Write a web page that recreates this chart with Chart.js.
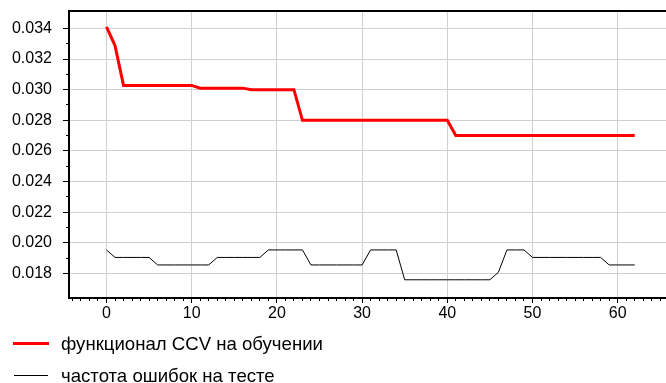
<!DOCTYPE html>
<html>
<head>
<meta charset="utf-8">
<script src="https://cdn.jsdelivr.net/npm/chart.js@4.4.1/dist/chart.umd.min.js"></script>
<style>
  html, body { margin: 0; padding: 0; background: #fff; }
  #wrap { position: relative; width: 666px; height: 383px; overflow: hidden; }
  canvas { display: block; }
  .swatch { position: absolute; }
  .label {
    position: absolute; left: 61px; height: 20px; line-height: 20px;
    font: 18.6px "Liberation Sans", Arial, Helvetica, sans-serif; color: #000; white-space: nowrap;
  }
</style>
</head>
<body>
<div id="wrap">
  <canvas id="chart" width="666" height="383"></canvas>
  <div class="swatch" style="left:13px;top:342px;width:36px;height:3px;background:#ff0000;"></div>
  <div class="label" id="lab0" style="top:333px;"></div>
  <div class="swatch" style="left:14px;top:375px;width:34px;height:1px;background:#000;"></div>
  <div class="label" id="lab1" style="top:365px;"></div>
</div>
<script>
// Training iterations
const epochs = [0, 1, 2, 3, 4, 5, 6, 7, 8, 9, 10, 11, 12, 13, 14, 15, 16, 17, 18, 19, 20,
  21, 22, 23, 24, 25, 26, 27, 28, 29, 30, 31, 32, 33, 34, 35, 36, 37, 38, 39, 40, 41,
  42, 43, 44, 45, 46, 47, 48, 49, 50, 51, 52, 53, 54, 55, 56, 57, 58, 59, 60, 61, 62];

// CCV functional on the training sample
const ccvTrain = [0.0341, 0.03288,
  0.03028, 0.03028, 0.03028, 0.03028, 0.03028, 0.03028, 0.03028, 0.03028, 0.03028,
  0.0301, 0.0301, 0.0301, 0.0301, 0.0301, 0.0301,
  0.0300, 0.0300, 0.0300, 0.0300, 0.0300, 0.0300,
  0.0280, 0.0280, 0.0280, 0.0280, 0.0280, 0.0280, 0.0280, 0.0280, 0.0280,
  0.0280, 0.0280, 0.0280, 0.0280, 0.0280, 0.0280, 0.0280, 0.0280, 0.0280,
  0.0270, 0.0270, 0.0270, 0.0270, 0.0270, 0.0270, 0.0270, 0.0270, 0.0270, 0.0270, 0.0270,
  0.0270, 0.0270, 0.0270, 0.0270, 0.0270, 0.0270, 0.0270, 0.0270, 0.0270, 0.0270, 0.0270];

// Error rate on the test sample
const testError = [0.01953,
  0.01904, 0.01904, 0.01904, 0.01904, 0.01904,
  0.01855, 0.01855, 0.01855, 0.01855, 0.01855, 0.01855, 0.01855,
  0.01904, 0.01904, 0.01904, 0.01904, 0.01904, 0.01904,
  0.01953, 0.01953, 0.01953, 0.01953, 0.01953,
  0.01855, 0.01855, 0.01855, 0.01855, 0.01855, 0.01855, 0.01855,
  0.01953, 0.01953, 0.01953, 0.01953,
  0.01758, 0.01758, 0.01758, 0.01758, 0.01758, 0.01758, 0.01758, 0.01758, 0.01758, 0.01758, 0.01758,
  0.01807,
  0.01953, 0.01953, 0.01953,
  0.01904, 0.01904, 0.01904, 0.01904, 0.01904, 0.01904, 0.01904, 0.01904, 0.01904,
  0.01855, 0.01855, 0.01855, 0.01855];

const seriesNames = ['функционал CCV на обучении', 'частота ошибок на тесте'];

const xTicks = [0, 10, 20, 30, 40, 50, 60];
const yTicks = [0.018, 0.020, 0.022, 0.024, 0.026, 0.028, 0.030, 0.032, 0.034];

const X_MIN = -4.4, X_MAX = 65.67;
const Y_MIN = 0.01639, Y_MAX = 0.03514;

document.getElementById('lab0').textContent = seriesNames[0];
document.getElementById('lab1').textContent = seriesNames[1];

const FONT = { family: '"Liberation Sans", Arial, Helvetica, sans-serif', size: 16 };
const GRID = '#d0d0d0';

const toPoints = (ys) => epochs.map((e, i) => ({ x: e, y: ys[i] }));

// keep the plot box fixed: no extra room for overhanging labels
const noPadX = (s, h) => { s.height = h; s.paddingLeft = 0; s.paddingRight = 0; };
const noPadY = (s, w) => { s.width = w; s.paddingTop = 0; s.paddingBottom = 0; };

new Chart(document.getElementById('chart'), {
  type: 'line',
  data: {
    datasets: [
      { label: seriesNames[0], data: toPoints(ccvTrain), borderColor: '#ff0000',
        borderWidth: 3, pointRadius: 0, tension: 0, fill: false },
      { label: seriesNames[1], data: toPoints(testError), borderColor: '#000000',
        borderWidth: 1, pointRadius: 0, tension: 0, fill: false }
    ]
  },
  options: {
    responsive: false,
    animation: false,
    layout: { padding: { top: 11, right: 0, bottom: 0, left: 0 } },
    plugins: { legend: { display: false }, tooltip: { enabled: false } },
    scales: {
      x: {
        type: 'linear', position: 'bottom', weight: 1, min: X_MIN, max: X_MAX,
        afterBuildTicks: (s) => { s.ticks = xTicks.map(v => ({ value: v })); },
        ticks: { font: FONT, color: '#000', padding: 1, maxRotation: 0, callback: (v) => String(v) },
        grid: { color: GRID, lineWidth: 1, tickColor: '#000', tickLength: 5 },
        border: { color: '#000', width: 2 },
        afterFit: (s) => noPadX(s, 85)
      },
      xMinor: {
        type: 'linear', position: 'bottom', weight: 0, min: X_MIN, max: X_MAX,
        ticks: { display: false, stepSize: 1, includeBounds: false },
        grid: { drawOnChartArea: false, tickColor: '#000', tickLength: 3 },
        border: { display: false },
        afterFit: (s) => noPadX(s, 0)
      },
      xTop: {
        type: 'linear', position: 'top', min: X_MIN, max: X_MAX,
        ticks: { display: false },
        grid: { display: false },
        border: { color: '#000', width: 2 },
        afterFit: (s) => noPadX(s, 0)
      },
      y: {
        type: 'linear', position: 'left', weight: 1, min: Y_MIN, max: Y_MAX,
        afterBuildTicks: (s) => { s.ticks = yTicks.map(v => ({ value: v })); },
        ticks: { font: FONT, color: '#000', padding: 11, callback: (v) => v.toFixed(3) },
        grid: { color: GRID, lineWidth: 1, tickColor: '#000', tickLength: 6 },
        border: { color: '#000', width: 2 },
        afterFit: (s) => noPadY(s, 69)
      },
      yMinor: {
        type: 'linear', position: 'left', weight: 0, min: Y_MIN, max: Y_MAX,
        ticks: { display: false, stepSize: 0.001, includeBounds: false },
        grid: {
          drawOnChartArea: false, tickLength: 3,
          tickColor: (c) => (c.tick && c.tick.value > 0.0179 && c.tick.value < 0.0341) ? '#000' : 'rgba(0,0,0,0)'
        },
        border: { display: false },
        afterFit: (s) => noPadY(s, 0)
      }
    }
  }
});
</script>
</body>
</html>
